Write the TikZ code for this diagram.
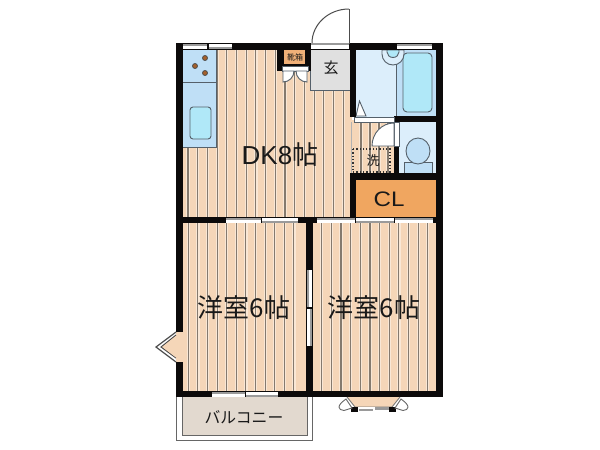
\documentclass[tikz,border=0pt]{standalone}
\usepackage{fontspec}
\setmainfont{Liberation Sans}
\newfontfamily\jpfont{Noto Sans CJK JP}
\definecolor{floorc}{HTML}{F5D6B8}
\definecolor{halo}{HTML}{F9E7D5}
\definecolor{stripe}{HTML}{857A6E}
\definecolor{wallc}{HTML}{0C0A0A}
\definecolor{lblue}{HTML}{DCEEFB}
\definecolor{mblue}{HTML}{BFDFF6}
\definecolor{sinkc}{HTML}{B0E8F8}
\definecolor{clc}{HTML}{F0A660}
\definecolor{shoec}{HTML}{F0B078}
\definecolor{entc}{HTML}{E0E0E0}
\definecolor{balc}{HTML}{E2D9CF}
\definecolor{burner}{HTML}{A5602A}
\definecolor{linec}{HTML}{55606A}
\definecolor{panec}{HTML}{9A9A9A}
\tikzset{
  x=1pt,y=-1pt,
  wall/.style={fill=wallc,draw=none},
  fixt/.style={draw=linec,line width=0.9pt},
  stripeline/.style={draw=stripe,line width=1.1pt},
  stripehalo/.style={draw=halo,line width=3.2pt},
  lbl/.style={inner sep=0pt,text=black!90},
  thinln/.style={draw=black!60,line width=0.9pt}
}
\newcommand{\floorstripe}[3]{\draw[stripehalo] (#1,#2) -- (#1,#3); \draw[stripeline] (#1,#2) -- (#1,#3);}
% horizontal pane: x1 x2 y1 ; gray above white
\newcommand{\paneA}[3]{\fill[white] (#1,#3) rectangle (#2,#3+5); \fill[panec] (#1,#3) rectangle (#2,#3+2.2);}
\newcommand{\paneB}[3]{\fill[white] (#1,#3) rectangle (#2,#3+5); \fill[panec] (#1,#3+2.8) rectangle (#2,#3+5);}
\begin{document}
\begin{tikzpicture}
\useasboundingbox (0,0) rectangle (600,450);
\fill[white] (0,0) rectangle (600,450);
% balcony
\draw[thinln,fill=white] (176,397) -- (176,440) -- (312,440) -- (312,397);
\draw[thinln,fill=balc] (182,397) -- (182,435) -- (307,435) -- (307,397);
% floors
\fill[floorc] (180,47) rectangle (352,220);
\fill[floorc] (180,220) rectangle (308,395);
\fill[floorc] (310,220) rectangle (440,395);
\fill[floorc] (350,120) rectangle (395,175);
% stripes
\foreach \i in {0,...,16}{\floorstripe{188+9.7*\i}{50}{217}}
\foreach \i in {0,...,11}{\floorstripe{188.3+9.6*\i}{223}{392}}
\foreach \i in {0,...,11}{\floorstripe{321.7+9.65*\i}{223}{392}}
\foreach \x in {361,370,379,388}{\floorstripe{\x}{122}{173}}
\draw[draw=gray!60,line width=0.8pt] (351,122) -- (351,173);
% kitchen
\fill[mblue] (183,50) rectangle (216,147);
\draw[fixt] (183,82) -- (216,82);
\draw[fixt] (216,50) -- (216,147) -- (183,147);
\draw[fixt,fill=sinkc,rounded corners=3pt] (190,107) rectangle (211,139);
\foreach \p in {(205,58),(195,66),(205,73)}{\draw[fill=burner,draw=black!70,line width=0.8pt] \p circle (2.5);}
% entrance
\fill[entc] (310,50) rectangle (350,90);
\draw[fixt] (310,70) -- (310,90) -- (350,90);
% bath
\fill[lblue] (356,50) rectangle (396,117);
\fill[mblue] (396,50) rectangle (437,117);
\draw[fixt] (396,50) -- (396,117);
\draw[fixt,fill=sinkc,rounded corners=4pt] (403,53) rectangle (432,112);
\draw[fixt,fill=lblue] (382,50) -- (382,54) arc (180:0:11 and 11) -- (404,50) -- cycle;
\draw[fixt,fill=sinkc] (387,50) -- (387,52) arc (180:0:6 and 5.5) -- (399,50) -- cycle;
\draw[fixt,fill=white] (356,116) -- (359.5,101) -- (366,116) -- cycle;
% toilet room
\fill[lblue] (399,122) rectangle (437,173);
\draw[fixt,fill=mblue] (404,162) rectangle (432,173);
\draw[fixt,fill=mblue] (418,151) ellipse (12 and 13);
% washer
\draw[draw=black!80,dotted,line width=1.3pt] (353,149) rectangle (390,172);
% CL
\fill[clc] (356,180) rectangle (437,217);
% walls
\fill[wall] (176,43) rectangle (443,50);
\fill[wall] (176,43) rectangle (183,335);
\fill[wall] (176,358) rectangle (183,397);
\fill[wall] (436,43) rectangle (443,397);
\fill[wall] (176,391) rectangle (443,397);
\fill[wall] (176,217) rectangle (443,223);
\fill[wall] (306,217) rectangle (313,397);
\fill[wall] (350,43) rectangle (356,117);
\fill[wall] (350,173) rectangle (443,180);
\fill[wall] (350,173) rectangle (356,217);
\fill[wall] (394,116) rectangle (443,122);
\fill[wall] (394,146) rectangle (399,173);
\fill[wall] (277,43) rectangle (311,71);
% shoe closet
\fill[shoec] (284,50) rectangle (305,64);
\fill[white] (282,66) rectangle (308,71);
\draw[fixt,line width=0.6pt] (282,66) rectangle (308,71);
\draw[fixt,fill=white] (283,71) -- (283,82) arc (90:0:11) -- cycle;
\draw[fixt,fill=white] (307,71) -- (307,82) arc (90:180:11) -- cycle;
% window panes
\paneA{183}{207}{44}
\paneB{209}{232}{44}
\paneA{397}{432}{44}
\paneA{226}{261}{218}
\paneB{262}{298}{218}
\paneA{317}{355}{218}
\paneB{356}{394}{218}
\paneA{395}{433}{218}
\paneA{212}{245}{392}
\paneB{246}{278}{392}
% sliding door
\fill[white] (307,270) rectangle (312,346);
\fill[panec] (307,270) rectangle (309,307);
\fill[panec] (310,309) rectangle (312,346);
\fill[wall] (307,307) rectangle (312,309);
% bath door threshold and wash-room door
\fill[white] (354,117) rectangle (394,122);
\draw[fixt,line width=0.6pt] (354,117) rectangle (394,122);
\fill[white] (394,122) rectangle (399,146);
\draw[fixt,line width=0.6pt] (394,122) rectangle (399,146);
\draw[fixt,fill=white] (394,123) -- (394,146) -- (372,146) arc (180:270:22 and 23) -- cycle;
% entrance door
\fill[white] (311,43) rectangle (349,49);
\fill[panec] (311,43) rectangle (349,45);
\draw[black!70,line width=1pt] (349,44) -- (349,9);
\draw[black!70,line width=1pt] (312,43) arc (180:270:37 and 34);
% closet bump on left
\fill[floorc] (176,332) rectangle (183,362);
\draw[fill=floorc,draw=black!70,line width=1pt] (176,335) -- (161,347) -- (176,358);
\fill[floorc] (176,336) -- (162.5,347) -- (176,357.5) -- (183,357.5) -- (183,336) -- cycle;
\foreach \i in {188.3}{\floorstripe{\i}{330}{365}}
\draw[black!70,line width=1.2pt] (176,332) -- (156,347) -- (176,362);
% bay window
\draw[fill=floorc,draw=black!55,line width=0.8pt] (347,397) -- (355,407) -- (392,407) -- (400,397);
\fill[wall] (351,407) rectangle (358,412);
\fill[wall] (389,407) rectangle (396,412);
\fill[white] (358,407) rectangle (389,411.5);
\fill[panec] (359,408.5) rectangle (373,411);
\fill[panec] (375,407) rectangle (389,409.5);
\draw[thinln,fill=white] (346,399) -- (352,408) -- (344,410.5) .. controls (338,410) and (336,406) .. cycle;
\draw[thinln,fill=white] (401,399) -- (395,408) -- (403,410.5) .. controls (409,410) and (411,406) .. cycle;
% labels
\node[lbl] (dk) at (280,155) {\fontsize{26}{26}\selectfont DK8\jpfont 帖};
\node[lbl] (gen) at (331,68) {\fontsize{15}{15}\selectfont\jpfont 玄};
\node[lbl] (kutsu) at (295,57.5) {\fontsize{8}{8}\selectfont\jpfont 靴箱};
\node[lbl] (sen) at (373,161) {\fontsize{13}{13}\selectfont\jpfont 洗};
\node[lbl,transform shape,xscale=1.15] (cl) at (389,199) {\fontsize{21}{21}\selectfont CL};
\node[lbl] (r1) at (244,308) {\fontsize{26}{26}\selectfont\jpfont 洋室6帖};
\node[lbl] (r2) at (374,308) {\fontsize{26}{26}\selectfont\jpfont 洋室6帖};
\node[lbl] (bal) at (244,417) {\fontsize{15.8}{16}\selectfont\jpfont バルコニー};
\end{tikzpicture}
\end{document}
